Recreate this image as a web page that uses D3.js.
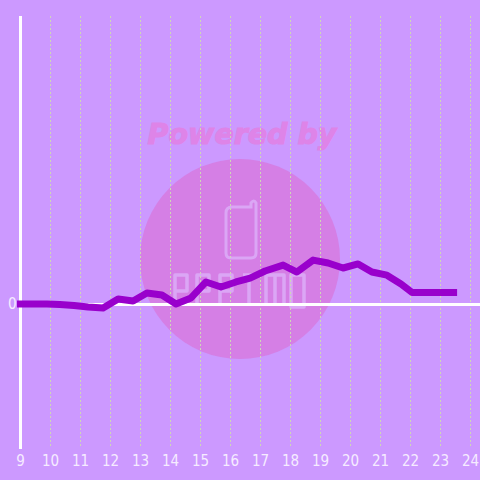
<!DOCTYPE html>
<html><head><meta charset="utf-8">
<script src="https://cdn.jsdelivr.net/npm/d3@7/dist/d3.min.js"></script>
<style>html,body{margin:0;padding:0;background:#cc99ff}svg{display:block}</style>
</head><body><svg id="c" width="480" height="480"></svg>
<script>
const hours=[8.9,9.4,9.9,10.33,10.8,11.27,11.77,12.27,12.77,13.23,13.73,14.2,14.7,15.2,15.7,16.2,16.67,17.17,17.77,18.23,18.77,19.27,19.77,20.27,20.73,21.23,21.7,22.07,23.57];
const values=[0,0,0,-0.3,-1,-2.1,-2.8,3.5,2.1,7.6,6.2,0,4.2,15.3,11.8,15.3,18,22.9,27,22.2,30.5,28.5,25,27.8,22.2,20,13.9,8,8];
const xTicks=[9,10,11,12,13,14,15,16,17,18,19,20,21,22,23,24];
const yTicks=[0];
const watermarkTitle="Powered by";
const svg=d3.select("#c");
const x=d3.scaleLinear().domain([9,24]).range([20,470]);
const y=d3.scaleLinear().domain([-100,200]).range([448,16]);
const tickFont="DejaVu Sans Condensed, DejaVu Sans";
// watermark
const w=svg.append("g");
w.append("circle").attr("cx",240).attr("cy",259).attr("r",100).attr("fill","#dd66cc").attr("opacity",.5);
w.append("text").attr("x",242).attr("y",144).attr("text-anchor","middle")
 .attr("font-family","DejaVu Sans").attr("font-weight","bold").attr("font-style","italic").attr("font-size",28.5)
 .attr("stroke","#de84e8").attr("stroke-width",1.1)
 .attr("fill","#de84e8").text(watermarkTitle);
const logo="#dba6f5";
w.append("path").attr("d","M232 207 H251 V203 Q254 199 256 203 V253 Q256 258 251 258 H231 Q226 258 226 253 V213 Q226 207 232 207 Z")
 .attr("fill","none").attr("stroke",logo).attr("stroke-width",3);
const lg=w.append("g").attr("fill","none").attr("stroke",logo).attr("stroke-width",3.5).attr("stroke-linejoin","round");
lg.append("path").attr("d","M175 306 V275 H187 V291 H175");
lg.append("path").attr("d","M197 306 V275 H209 V291 H197");
lg.append("path").attr("d","M220 306 V275 H232 V291 H220");
lg.append("path").attr("d","M243 275 H255 M249 275 V306");
lg.append("path").attr("d","M266 306 V275 H284 V306 M275 275 V306");
lg.append("path").attr("d","M291 275 H304 V307 H291 Z");
// grid
svg.append("g").selectAll("line").data(xTicks.slice(1)).join("line")
 .attr("x1",d=>x(d)+.5).attr("x2",d=>x(d)+.5).attr("y1",16).attr("y2",448)
 .attr("stroke","#cfd6b8").attr("stroke-width",1).attr("stroke-dasharray","2,2");
// axes
const ax=svg.append("g").call(d3.axisBottom(x).tickValues(xTicks).tickSize(0).tickFormat(d3.format("d")))
 .attr("transform","translate(0,453)");
ax.select(".domain").remove();
ax.selectAll("text").attr("font-family",tickFont).attr("font-size",15).attr("fill","#f6ecff").attr("dy","0.85em").attr("y",0);
const ay=svg.append("g").attr("transform","translate(16.5,0)").call(d3.axisLeft(y).tickValues(yTicks).tickSize(0).tickFormat(d3.format("d")));
ay.select(".domain").remove();
ay.selectAll("text").attr("font-family",tickFont).attr("font-size",15).attr("fill","#f6ecff").attr("x",0);
svg.append("line").attr("x1",20.5).attr("x2",20.5).attr("y1",16).attr("y2",449).attr("stroke","#fff").attr("stroke-width",3);
svg.append("line").attr("x1",20).attr("x2",480).attr("y1",y(0)+.5).attr("y2",y(0)+.5).attr("stroke","#fff").attr("stroke-width",3);
// series
const line=d3.line().x((d,i)=>x(hours[i])).y(d=>y(d));
svg.append("path").datum(values).attr("d",line).attr("fill","none").attr("stroke","#9900cc").attr("stroke-width",7).attr("stroke-linejoin","round");
</script></body></html>
